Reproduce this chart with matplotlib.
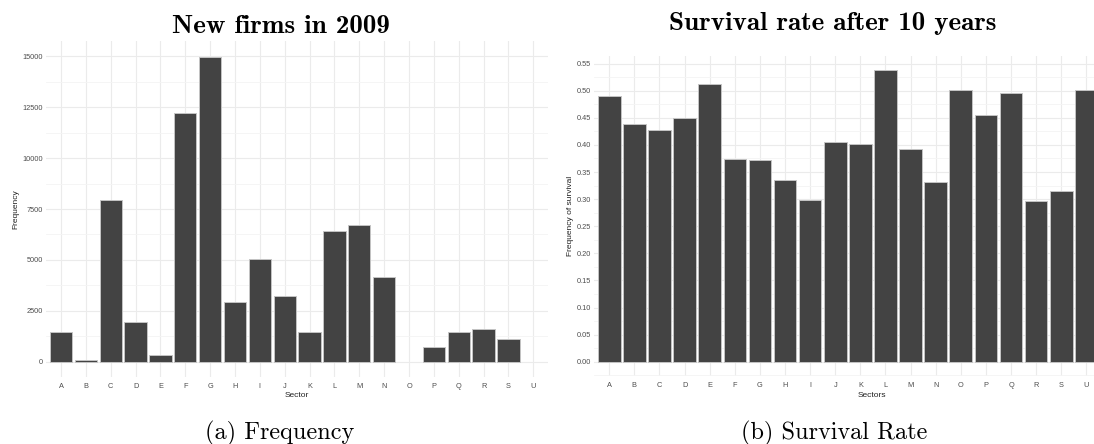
import matplotlib
matplotlib.use("Agg")
import matplotlib.pyplot as plt
from matplotlib.ticker import FixedLocator
import numpy as np

sectors = ["A", "B", "C", "D", "E", "F", "G", "H", "I", "J", "K", "L", "M", "N", "O", "P", "Q", "R", "S", "U"]
new_firms = [1440, 80, 7950, 1965, 345, 12230, 14950, 2950, 5060, 3210, 1440, 6440, 6720, 4150, 0, 717, 1440, 1605, 1130, 0]
survival = [0.490, 0.439, 0.428, 0.449, 0.513, 0.374, 0.372, 0.335, 0.299, 0.405, 0.401, 0.538, 0.393, 0.332, 0.502, 0.456, 0.496, 0.297, 0.315, 0.502]
freq_ticks = [0, 2500, 5000, 7500, 10000, 12500, 15000]
surv_ticks = [0.00, 0.05, 0.10, 0.15, 0.20, 0.25, 0.30, 0.35, 0.40, 0.45, 0.50, 0.55]

W, H = 1094, 444
fig = plt.figure(figsize=(W / 100, H / 100), dpi=100)

def px_axes(x0, x1, ytop, ybot):
    return fig.add_axes([x0 / W, (H - ybot) / H, (x1 - x0) / W, (ybot - ytop) / H])

BAR = "#434343"
EDGE = "#C4C4C4"
TICKC = "#4D4D4D"

def style(ax, major_ticks, major_labels, minor_ticks):
    ax.set_facecolor("white")
    for s in ax.spines.values():
        s.set_visible(False)
    ax.yaxis.set_major_locator(FixedLocator(major_ticks))
    ax.set_yticklabels(major_labels)
    ax.yaxis.set_minor_locator(FixedLocator(minor_ticks))
    ax.grid(True, which="major", color="#EBEBEB", linewidth=0.8)
    ax.grid(True, which="minor", axis="y", color="#F4F4F4", linewidth=0.6)
    ax.set_axisbelow(True)
    ax.tick_params(which="both", length=0)
    ax.tick_params(axis="y", pad=2.4)
    ax.tick_params(axis="x", pad=4.0)
    for lab in ax.get_xticklabels() + ax.get_yticklabels():
        lab.set_fontfamily("Liberation Sans")
        lab.set_fontsize(5.3)
        lab.set_color(TICKC)

x = np.arange(len(sectors))

def draw_bars(ax, vals):
    edges = [EDGE if v > 0 else "none" for v in vals]
    ax.bar(x, vals, width=0.9, color=BAR, edgecolor=edges, linewidth=0.7)
    ax.set_xlim(-0.6, len(sectors) - 0.4)
    ax.set_xticks(x)
    ax.set_xticklabels(sectors)

# Left panel
ax1 = px_axes(46.1, 548.2, 41.0, 377.0)
draw_bars(ax1, new_firms)
ax1.set_ylim(-750, 15750)
style(ax1, freq_ticks, [str(v) for v in freq_ticks],
      [t + 1250 for t in freq_ticks[:-1]])

# Right panel
ax2 = px_axes(594.2, 1101.4, 55.7, 376.4)
draw_bars(ax2, survival)
ax2.set_ylim(-0.0269, 0.5646)
style(ax2, surv_ticks, [f"{v:.2f}" for v in surv_ticks],
      [t - 0.025 for t in surv_ticks])

def ftext(xp, yp, s, **kw):
    fig.text(xp / W, 1 - yp / H, s, **kw)

# axis labels
lab = dict(family="Liberation Sans", size=6.0, color="#222222")
ftext(297.2, 396.5, "Sector", ha="center", va="baseline", **lab)
ftext(872.0, 396.5, "Sectors", ha="center", va="baseline", **lab)
ftext(16.0, 209.0, "Frequency", ha="center", va="center", rotation=90, **lab)
ftext(570.0, 216.0, "Frequency of survival", ha="center", va="center", rotation=90, **lab)

# titles
ftext(281.0, 33.3, "New firms in 2009", ha="center", va="baseline", family="cmb10", size=19.5)
ftext(833.0, 30.3, "Survival rate after 10 years", ha="center", va="baseline", family="cmb10", size=19.5)

# captions
ftext(280.0, 439.3, "(a) Frequency", ha="center", va="baseline", family="cmr10", size=17.5)
ftext(834.0, 439.3, "(b) Survival Rate", ha="center", va="baseline", family="cmr10", size=17.5)

fig.savefig("out.png", dpi=100, facecolor="white")
